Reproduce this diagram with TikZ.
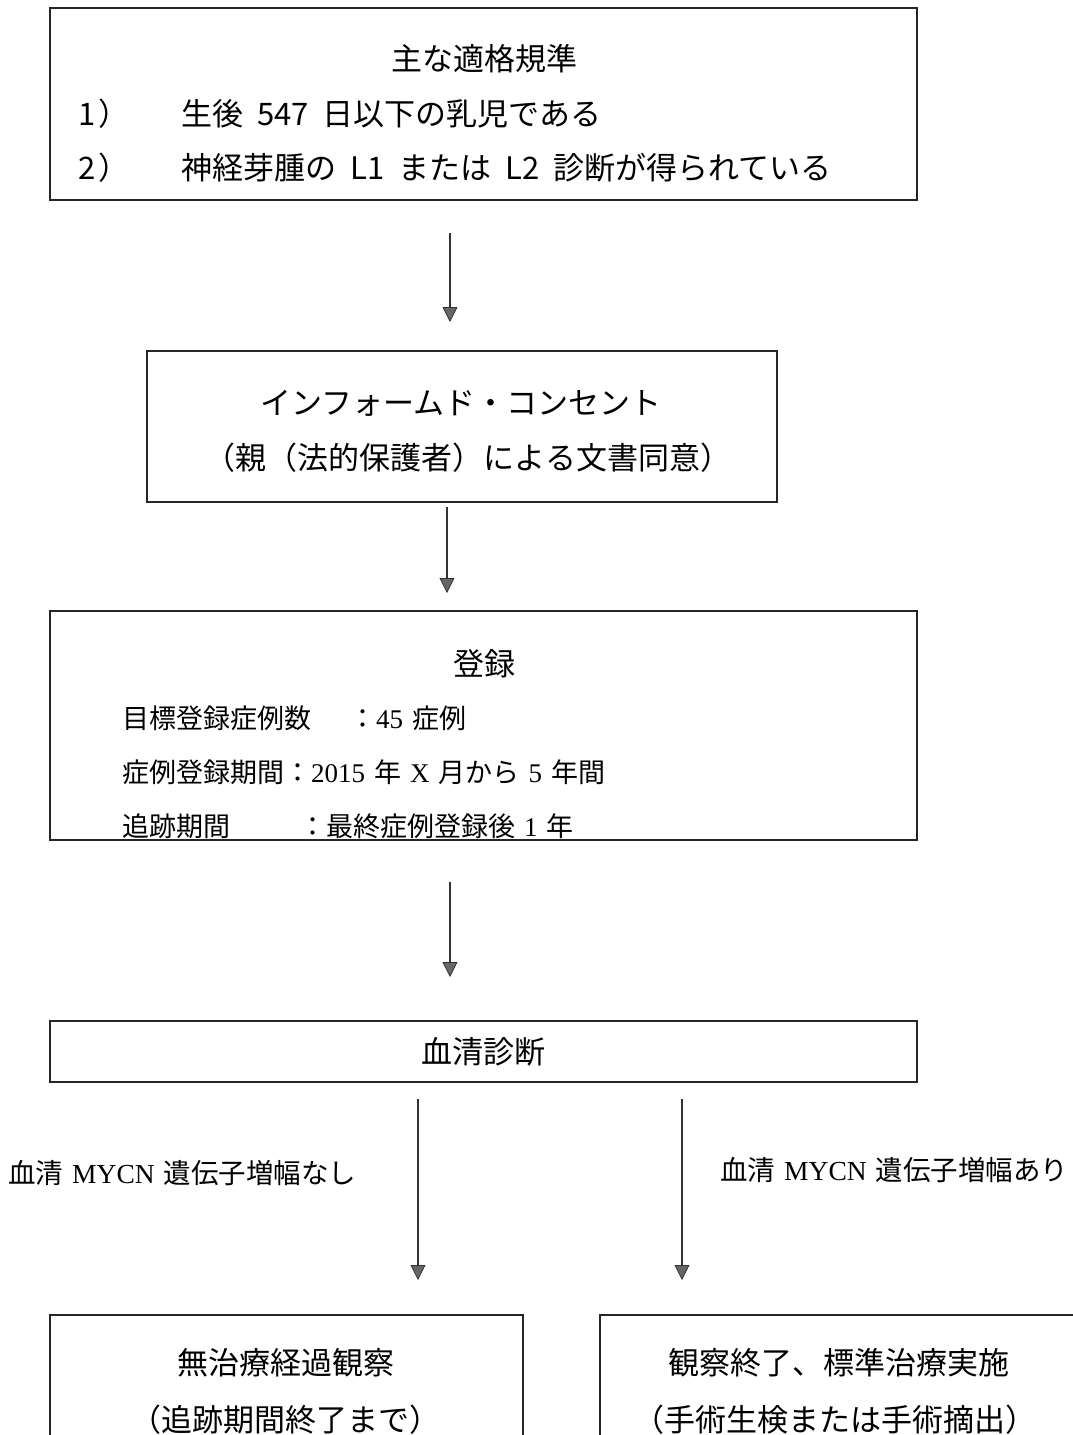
\documentclass[tikz,border=0pt]{standalone}
\usepackage{fontspec}
\setmainfont{Noto Sans CJK JP}
\newfontfamily\lat{Liberation Serif}
\usetikzlibrary{arrows.meta}
\newcommand\gsp{\hspace{14pt}}
\newcommand\msp{\hspace{9pt}}
\tikzset{
  box/.style={draw=black!85, line width=1.8pt, inner sep=0pt, rectangle},
  goth/.style={inner sep=0pt, font=\fontsize{31}{37}\selectfont},
  minc/.style={inner sep=0pt, font=\fontsize{27}{32}\selectfont},
  lbl/.style={inner sep=0pt, font=\fontsize{27.5}{32}\selectfont},
  arr/.style={draw=black!80, line width=2.4pt,
    -{Triangle[width=15pt,length=15pt,fill=black!60,line width=0.8pt]}},
}
\begin{document}
\begin{tikzpicture}[x=1pt,y=-1pt]
\useasboundingbox (0,0) rectangle (1073,1435);
\fill[white] (0,0) rectangle (1073,1435);
\clip (0,0) rectangle (1073,1435);

% Box 1
\node[box, minimum width=867pt, minimum height=192pt] (b1) at (483.5,104) {};
\node[goth] (t1h) at (484,59) {主な適格規準};
\node[goth, anchor=west] (t1n1) at (78,114) {1\hspace{3pt}）};
\node[goth, anchor=west] (t1a) at (181,114) {生後{\gsp}547{\gsp}日以下の乳児である};
\node[goth, anchor=west] (t1n2) at (78,168) {2\hspace{3pt}）};
\node[goth, anchor=west] (t1b) at (181,168) {神経芽腫の{\gsp}L1{\gsp}または{\gsp}L2{\gsp}診断が得られている};

% Box 2
\node[box, minimum width=630pt, minimum height=151pt] (b2) at (462,426.5) {};
\node[goth] (t2a) at (461,403) {インフォームド・コンセント};
\node[goth] (t2b) at (468,458) {（親（法的保護者）による文書同意）};

% Box 3
\node[box, minimum width=867pt, minimum height=229pt] (b3) at (483.5,725.5) {};
\node[goth] (t3h) at (484,664) {登録};
\node[minc, anchor=west] (t3a) at (122,718) {目標登録症例数};
\node[minc, anchor=west] (t3av) at (349,718) {：{\lat 45}{\msp}症例};
\node[minc, anchor=west] (t3b) at (122,772) {症例登録期間：{\lat 2015}{\msp}年{\msp}{\lat X}{\msp}月から{\msp}{\lat 5}{\msp}年間};
\node[minc, anchor=west] (t3c) at (122,826) {追跡期間};
\node[minc, anchor=west] (t3cv) at (299,826) {：最終症例登録後{\msp}{\lat 1}{\msp}年};

% Box 4
\node[box, minimum width=867pt, minimum height=61pt] (b4) at (483.5,1051.5) {};
\node[goth] (t4) at (483,1052) {血清診断};

% Branch labels
\node[lbl, anchor=west] (lL) at (8,1173) {血清{\msp}{\lat MYCN}{\msp}遺伝子増幅なし};
\node[lbl, anchor=west] (lR) at (720,1170) {血清{\msp}{\lat MYCN}{\msp}遺伝子増幅あり};

% Bottom boxes
\node[box, minimum width=473pt, minimum height=160pt] (b5) at (286.5,1395) {};
\node[goth] (t5a) at (286,1363) {無治療経過観察};
\node[goth] (t5b) at (285,1420) {（追跡期間終了まで）};
\node[box, minimum width=500pt, minimum height=160pt] (b6) at (850,1395) {};
\node[goth] (t6a) at (839,1363) {観察終了、標準治療実施};
\node[goth] (t6b) at (835,1420) {（手術生検または手術摘出）};

% Arrow end points
\coordinate (a1s) at (450,233);  \coordinate (a1e) at (450,322);
\coordinate (a2s) at (447,507);  \coordinate (a2e) at (447,593);
\coordinate (a3s) at (450,882);  \coordinate (a3e) at (450,977);
\coordinate (a4s) at (418,1099); \coordinate (a4e) at (418,1280);
\coordinate (a5s) at (682,1099); \coordinate (a5e) at (682,1280);

\draw[arr] (a1s) -- (a1e);
\draw[arr] (a2s) -- (a2e);
\draw[arr] (a3s) -- (a3e);
\draw[arr] (a4s) -- (a4e);
\draw[arr] (a5s) -- (a5e);
\end{tikzpicture}
\end{document}
